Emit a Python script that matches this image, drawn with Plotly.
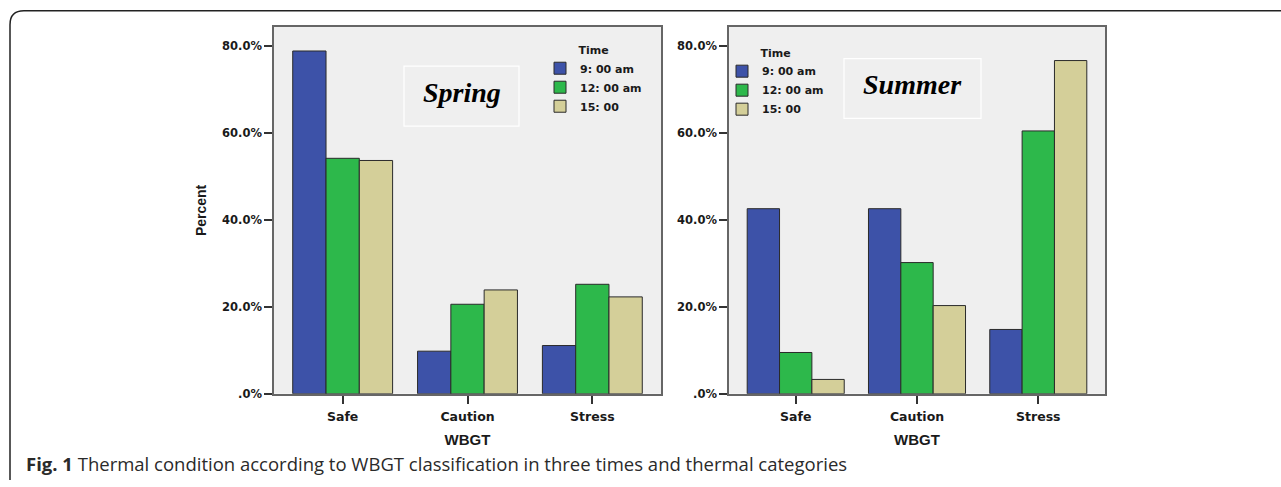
import plotly.graph_objects as go

W, H = 1281, 487

categories = ["Safe", "Caution", "Stress"]
times = ["9: 00 am", "12: 00 am", "15: 00"]

spring_9am = [78.9, 9.8, 11.1]
spring_12am = [54.2, 20.6, 25.2]
spring_15 = [53.7, 23.9, 22.3]

summer_9am = [42.6, 42.6, 14.8]
summer_12am = [9.5, 30.2, 60.5]
summer_15 = [3.3, 20.3, 76.7]

ytick_vals = [0, 20, 40, 60, 80]
ytick_text = [".0%", "20.0%", "40.0%", "60.0%", "80.0%"]

colors = ["#3d52a8", "#2db84b", "#d4cf99"]


def px(x):
    return x / W


def py(y):
    return 1 - y / H


fig = go.Figure()

for vals, name, col in zip([spring_9am, spring_12am, spring_15], times, colors):
    fig.add_trace(go.Bar(x=categories, y=vals, name=name, marker_color=col,
                         marker_line=dict(color="#2a2a2a", width=1),
                         xaxis="x", yaxis="y", legend="legend"))
for vals, name, col in zip([summer_9am, summer_12am, summer_15], times, colors):
    fig.add_trace(go.Bar(x=categories, y=vals, name=name, marker_color=col,
                         marker_line=dict(color="#2a2a2a", width=1),
                         xaxis="x2", yaxis="y2", legend="legend2"))

chart_font = dict(family="DejaVu Sans", size=12, color="#1a1a1a", weight="bold")
title_font = dict(family="Liberation Sans", size=15, color="#1a1a1a", weight="bold")

ydom = [py(399.5), py(27.5)]
common_x = dict(type="category", range=[-0.55, 2.55], showline=True, mirror=True,
                linecolor="#666666", linewidth=1.5, ticks="outside", ticklen=8,
                tickcolor="#333333", tickwidth=1.5, tickfont=dict(chart_font, size=12.5),
                ticklabelstandoff=2, showgrid=False, zeroline=False)
common_y = dict(range=[0, 84.4], showline=True, mirror=True, linecolor="#666666",
                linewidth=1.5, ticks="outside", ticklen=8, tickcolor="#333333",
                tickwidth=1.5, tickvals=ytick_vals, ticktext=ytick_text,
                tickfont=dict(chart_font, size=11.5), showgrid=False, zeroline=False)

legend_font = dict(family="DejaVu Sans", size=11, color="#1a1a1a", weight="bold")

fig.update_layout(
    width=W, height=H,
    margin=dict(l=0, r=0, t=0, b=0),
    paper_bgcolor="white",
    plot_bgcolor="#efefef",
    barmode="group", bargap=0.2, bargroupgap=0,
    xaxis=dict(common_x, domain=[px(274), px(661)], anchor="y",
               title=dict(text="WBGT", font=title_font, standoff=12)),
    yaxis=dict(common_y, domain=ydom, anchor="x",
               title=dict(text="Percent", font=dict(title_font, size=14), standoff=12)),
    xaxis2=dict(common_x, domain=[px(729), px(1105)], anchor="y2",
                title=dict(text="WBGT", font=title_font, standoff=12)),
    yaxis2=dict(common_y, domain=ydom, anchor="x2"),
    legend=dict(x=px(540), y=py(40), xanchor="left", yanchor="top",
                bgcolor="rgba(0,0,0,0)", font=legend_font,
                title=dict(text="Time", side="top center", font=legend_font),
                itemclick=False),
    legend2=dict(x=px(722), y=py(43), xanchor="left", yanchor="top",
                 bgcolor="rgba(0,0,0,0)", font=legend_font,
                 title=dict(text="Time", side="top center", font=legend_font),
                 itemclick=False),
)

# outer rounded frame
frame_path = (f"M {px(10)},{py(487)} L {px(10)},{py(25)} "
              f"Q {px(10)},{py(11)} {px(24)},{py(11)} L {px(1281)},{py(11)}")
shapes = [
    dict(type="path", xref="paper", yref="paper", path=frame_path,
         line=dict(color="#222222", width=1.5)),
    dict(type="rect", xref="paper", yref="paper", x0=px(404), x1=px(519), y0=py(128), y1=py(67),
         line=dict(color="white", width=1.2), fillcolor="rgba(0,0,0,0)"),
    dict(type="rect", xref="paper", yref="paper", x0=px(844), x1=px(981), y0=py(120), y1=py(59.5),
         line=dict(color="white", width=1.2), fillcolor="rgba(0,0,0,0)"),
]
fig.update_layout(shapes=shapes)

season_font = dict(family="Liberation Serif", size=28, color="black", weight="bold", style="italic")
fig.add_annotation(x=px(462), y=py(94), xref="paper", yref="paper", text="Spring",
                   showarrow=False, font=season_font, xanchor="center", yanchor="middle")
fig.add_annotation(x=px(912), y=py(86), xref="paper", yref="paper", text="Summer",
                   showarrow=False, font=season_font, xanchor="center", yanchor="middle")

fig.add_annotation(x=px(24), y=py(470), xref="paper", yref="paper",
                   text="<b>Fig. 1</b> Thermal condition according to WBGT classification in three times and thermal categories",
                   showarrow=False, xanchor="left", yanchor="middle",
                   font=dict(family="Open Sans", size=18.5, color="#2a2a2a"))

# remove the browser's default 8px body margin so the figure fills the window exactly
fig.write_html("out.html", config={"displayModeBar": False},
               post_script="document.body.style.margin='0';document.body.style.overflow='hidden';")
